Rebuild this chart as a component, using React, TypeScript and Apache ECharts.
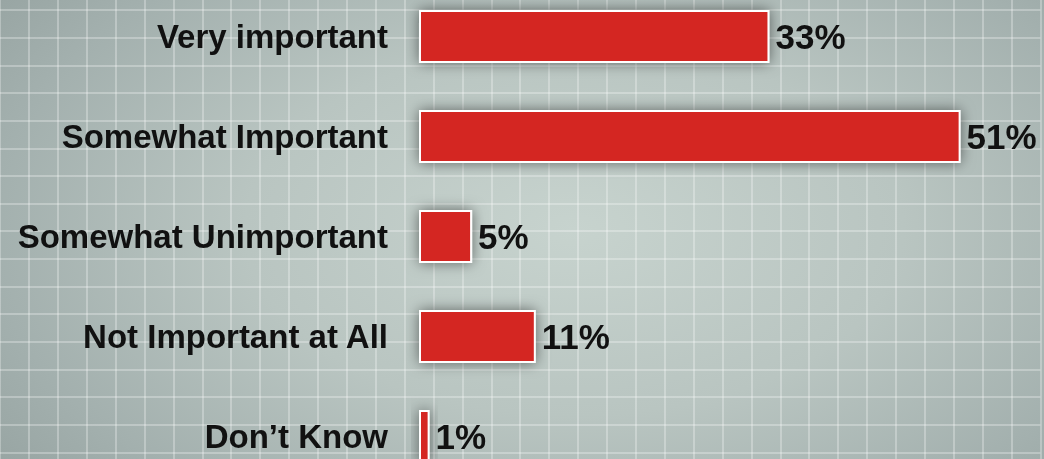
import React, { useEffect, useRef } from "react";
import * as echarts from "echarts";

const categories = [
  "Very important",
  "Somewhat Important",
  "Somewhat Unimportant",
  "Not Important at All",
  "Don\u2019t Know",
];
const values = [33, 51, 5, 11, 1];
const valueLabels = ["33%", "51%", "5%", "11%", "1%"];

const FONT = "'Liberation Sans', Arial, sans-serif";
const OFFSET = 30; // chart canvas extends above the visible page

export default function App() {
  const ref = useRef<HTMLDivElement>(null);
  useEffect(() => {
    const el = ref.current!;
    const chart = echarts.init(el, null, { renderer: "svg" });
    const gridLine = { show: true, lineStyle: { color: "rgba(255,255,255,0.38)", width: 1.5 } };
    chart.setOption({
      animation: false,
      backgroundColor: "transparent",
      grid: [
        { left: 419, top: OFFSET - 13.5, width: 10.62 * 56, height: 500, containLabel: false },
        { left: 0, top: OFFSET + 10 - 27.65, width: 28.9 * 36, height: 27.65 * 18, containLabel: false },
      ],
      xAxis: [
        { type: "value", gridIndex: 0, min: 0, max: 56, show: false },
        {
          type: "value",
          gridIndex: 1,
          min: 0,
          max: 36,
          interval: 1,
          axisLine: { show: false },
          axisTick: { show: false },
          axisLabel: { show: false },
          splitLine: gridLine,
        },
      ],
      yAxis: [
        {
          type: "category",
          gridIndex: 0,
          data: categories,
          inverse: true,
          axisLine: { show: false },
          axisTick: { show: false },
          splitLine: { show: false },
          axisLabel: {
            margin: 31,
            color: "#111111",
            fontFamily: FONT,
            fontWeight: "bold",
            fontSize: 33,
          },
          z: 5,
        },
        {
          type: "value",
          gridIndex: 1,
          min: 0,
          max: 18,
          interval: 1,
          axisLine: { show: false },
          axisTick: { show: false },
          axisLabel: { show: false },
          splitLine: gridLine,
        },
      ],
      series: [
        {
          type: "bar",
          xAxisIndex: 0,
          yAxisIndex: 0,
          data: values,
          barWidth: 53,
          z: 5,
          itemStyle: {
            color: "#d42523",
            borderColor: "#ffffff",
            borderWidth: 2,
            shadowColor: "rgba(0,0,0,0.5)",
            shadowBlur: 14,
          },
          label: {
            show: true,
            position: "right",
            distance: 6,
            color: "#111111",
            fontFamily: FONT,
            fontWeight: "bold",
            fontSize: 35,
            formatter: (p: any) => valueLabels[p.dataIndex],
          },
        },
      ],
    });
    return () => chart.dispose();
  }, []);
  return (
    <div
      style={{
        position: "fixed",
        left: 0,
        top: 0,
        width: 1044,
        height: 459,
        overflow: "hidden",
        background:
          "radial-gradient(ellipse 70% 90% at 55% 50%, #c7d3ce 0%, #b9c5c1 45%, #a3b0ae 80%, #96a3a1 100%)",
      }}
    >
      <div
        ref={ref}
        style={{ position: "absolute", left: 0, top: -OFFSET, width: 1044, height: 530 }}
      />
    </div>
  );
}
